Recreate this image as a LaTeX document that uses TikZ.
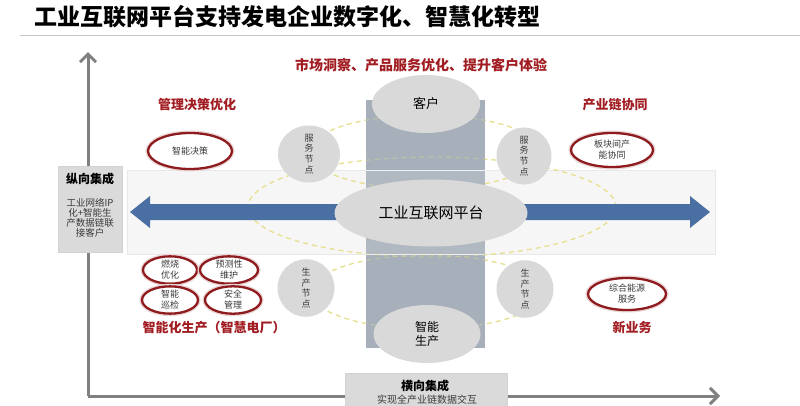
\documentclass[tikz,border=0pt]{standalone}
\usepackage{fontspec}
\setmainfont{Noto Sans CJK SC}
\usetikzlibrary{shapes.geometric,arrows.meta}
\definecolor{axisgray}{HTML}{808080}
\definecolor{colgray}{HTML}{A6AFBA}
\definecolor{ellgray}{HTML}{D9D9D9}
\definecolor{arrowblue}{HTML}{4A6FA3}
\definecolor{ringred}{HTML}{8E1B1E}
\definecolor{labelred}{HTML}{A11D22}
\definecolor{dashyel}{HTML}{E6DF8C}
\definecolor{boxgray}{HTML}{DADADA}
\definecolor{bandgray}{HTML}{F6F6F6}
\definecolor{darktext}{HTML}{3A3A3A}
\newcommand{\fs}[2]{\fontsize{#1}{#2}\selectfont}

\begin{document}
\begin{tikzpicture}[x=1pt,y=-1pt,
  grayell/.style={ellipse,fill=ellgray,inner sep=0pt,align=center,text=black},
  redell/.style={ellipse,draw=ringred,line width=2.3pt,fill=white,inner sep=0pt,
    preaction={draw=ringred!18,line width=5pt},align=center,text=darktext,font=\fs{9}{11}},
  redlabel/.style={text=labelred,font=\bfseries\fs{13}{15}},
  nodeell/.style={grayell,minimum width=57pt,minimum height=54pt,font=\fs{9}{10.8},text=darktext},
  dashring/.style={draw=dashyel,line width=1.3pt,dash pattern=on 5pt off 4pt},
  axisline/.style={draw=axisgray,line width=3pt,-{Straight Barb[length=8pt,width=16pt,line width=3pt]}},
  sidebox/.style={fill=boxgray,draw=gray!35,line width=0.4pt}]
\clip (0,0) rectangle (800,405);
\fill[white] (0,0) rectangle (800,405);
\node[anchor=west,font=\bfseries\fs{23}{25}] (title) at (31,17) {工业互联网平台支持发电企业数字化、智慧化转型};
\draw[gray!45,line width=0.8pt] (20,35) -- (800,35);
\fill[bandgray] (127,170) rectangle (715,254);
\draw[gray!18,line width=0.6pt] (127,170) rectangle (715,254);
\draw[dashring] (432,207) ellipse (184 and 50);
\draw[dashring] (425,152) ellipse (116 and 37);
\draw[dashring] (427,292) ellipse (116 and 37);
\fill[colgray] (366,100) rectangle (485,348);
\fill[white,opacity=0.12] (366,170) rectangle (485,254);
\draw[white,opacity=0.8,line width=1pt] (366,170) -- (485,170) (366,254) -- (485,254);
\begin{scope}
\clip (366,100) rectangle (485,348);
\draw[dashring,opacity=0.35] (432,207) ellipse (184 and 50);
\draw[dashring,opacity=0.35] (425,152) ellipse (116 and 37);
\draw[dashring,opacity=0.35] (427,292) ellipse (116 and 37);
\end{scope}
\fill[arrowblue] (130,212) -- (150,196) -- (150,204) -- (690,204) -- (690,196) -- (710,212)
  -- (690,228) -- (690,220) -- (150,220) -- (150,228) -- cycle;
\coordinate (origin) at (88,396);
\coordinate (ytip) at (88,52);
\coordinate (xtip) at (720,396);
\draw[axisline] (origin) -- (ytip);
\draw[axisline] (origin) -- (xtip);
\draw[sidebox] (58,166) rectangle (122,252);
\node[font=\bfseries\fs{12}{14}] (vint) at (90,179) {纵向集成};
\node[align=center,font=\fs{9.5}{10.2},text=darktext] (vtxt) at (90,218)
  {工业网络IP\\化+智能生\\产数据链联\\接客户};
\draw[sidebox] (345,373) rectangle (507,412);
\node[font=\bfseries\fs{12}{14}] (hint) at (425,386) {横向集成};
\node[font=\fs{10}{12},text=darktext] (htxt) at (427,400) {实现全产业链数据交互};
\node[grayell,minimum width=108pt,minimum height=58pt,font=\fs{13}{15}] (cust) at (426,104) {客户};
\node[grayell,minimum width=193pt,minimum height=67pt,font=\fs{15}{17}] (plat) at (431,213) {工业互联网平台};
\node[grayell,minimum width=107pt,minimum height=58pt,font=\fs{12}{14}] (prod) at (427,334) {智能\\生产};
\node[nodeell,minimum width=62pt,minimum height=52pt] (svcl) at (309,154) {服\\务\\节\\点};
\node[nodeell,minimum width=55pt,minimum height=52pt] (svcr) at (524,156) {服\\务\\节\\点};
\node[nodeell] (prdl) at (306,288) {生\\产\\节\\点};
\node[nodeell] (prdr) at (525,289) {生\\产\\节\\点};
\node[redell,minimum width=84pt,minimum height=36pt] (dec) at (190,151) {智能决策};
\node[redell,minimum width=54pt,minimum height=26pt] (burn) at (170,270) {燃烧\\优化};
\node[redell,minimum width=58pt,minimum height=26pt] (pred) at (229,270) {预测性\\维护};
\node[redell,minimum width=56pt,minimum height=26pt] (insp) at (170,300) {智能\\巡检};
\node[redell,minimum width=56pt,minimum height=26pt] (safe) at (233,300) {安全\\管理};
\node[redell,minimum width=82pt,minimum height=34pt] (chain) at (612,150) {板块间产\\能协同};
\node[redell,minimum width=78pt,minimum height=32pt] (energy) at (627,294) {综合能源\\服务};
\node[redlabel] (mgmt) at (197,105) {管理决策优化};
\node[redlabel] (indus) at (615,105) {产业链协同};
\node[redlabel,font=\bfseries\fs{14}{16}] (market) at (421,65) {市场洞察、产品服务优化、提升客户体验};
\node[redlabel] (smart) at (214,328) {智能化生产（智慧电厂）};
\node[redlabel] (newbiz) at (632,328) {新业务};
\end{tikzpicture}
\end{document}
